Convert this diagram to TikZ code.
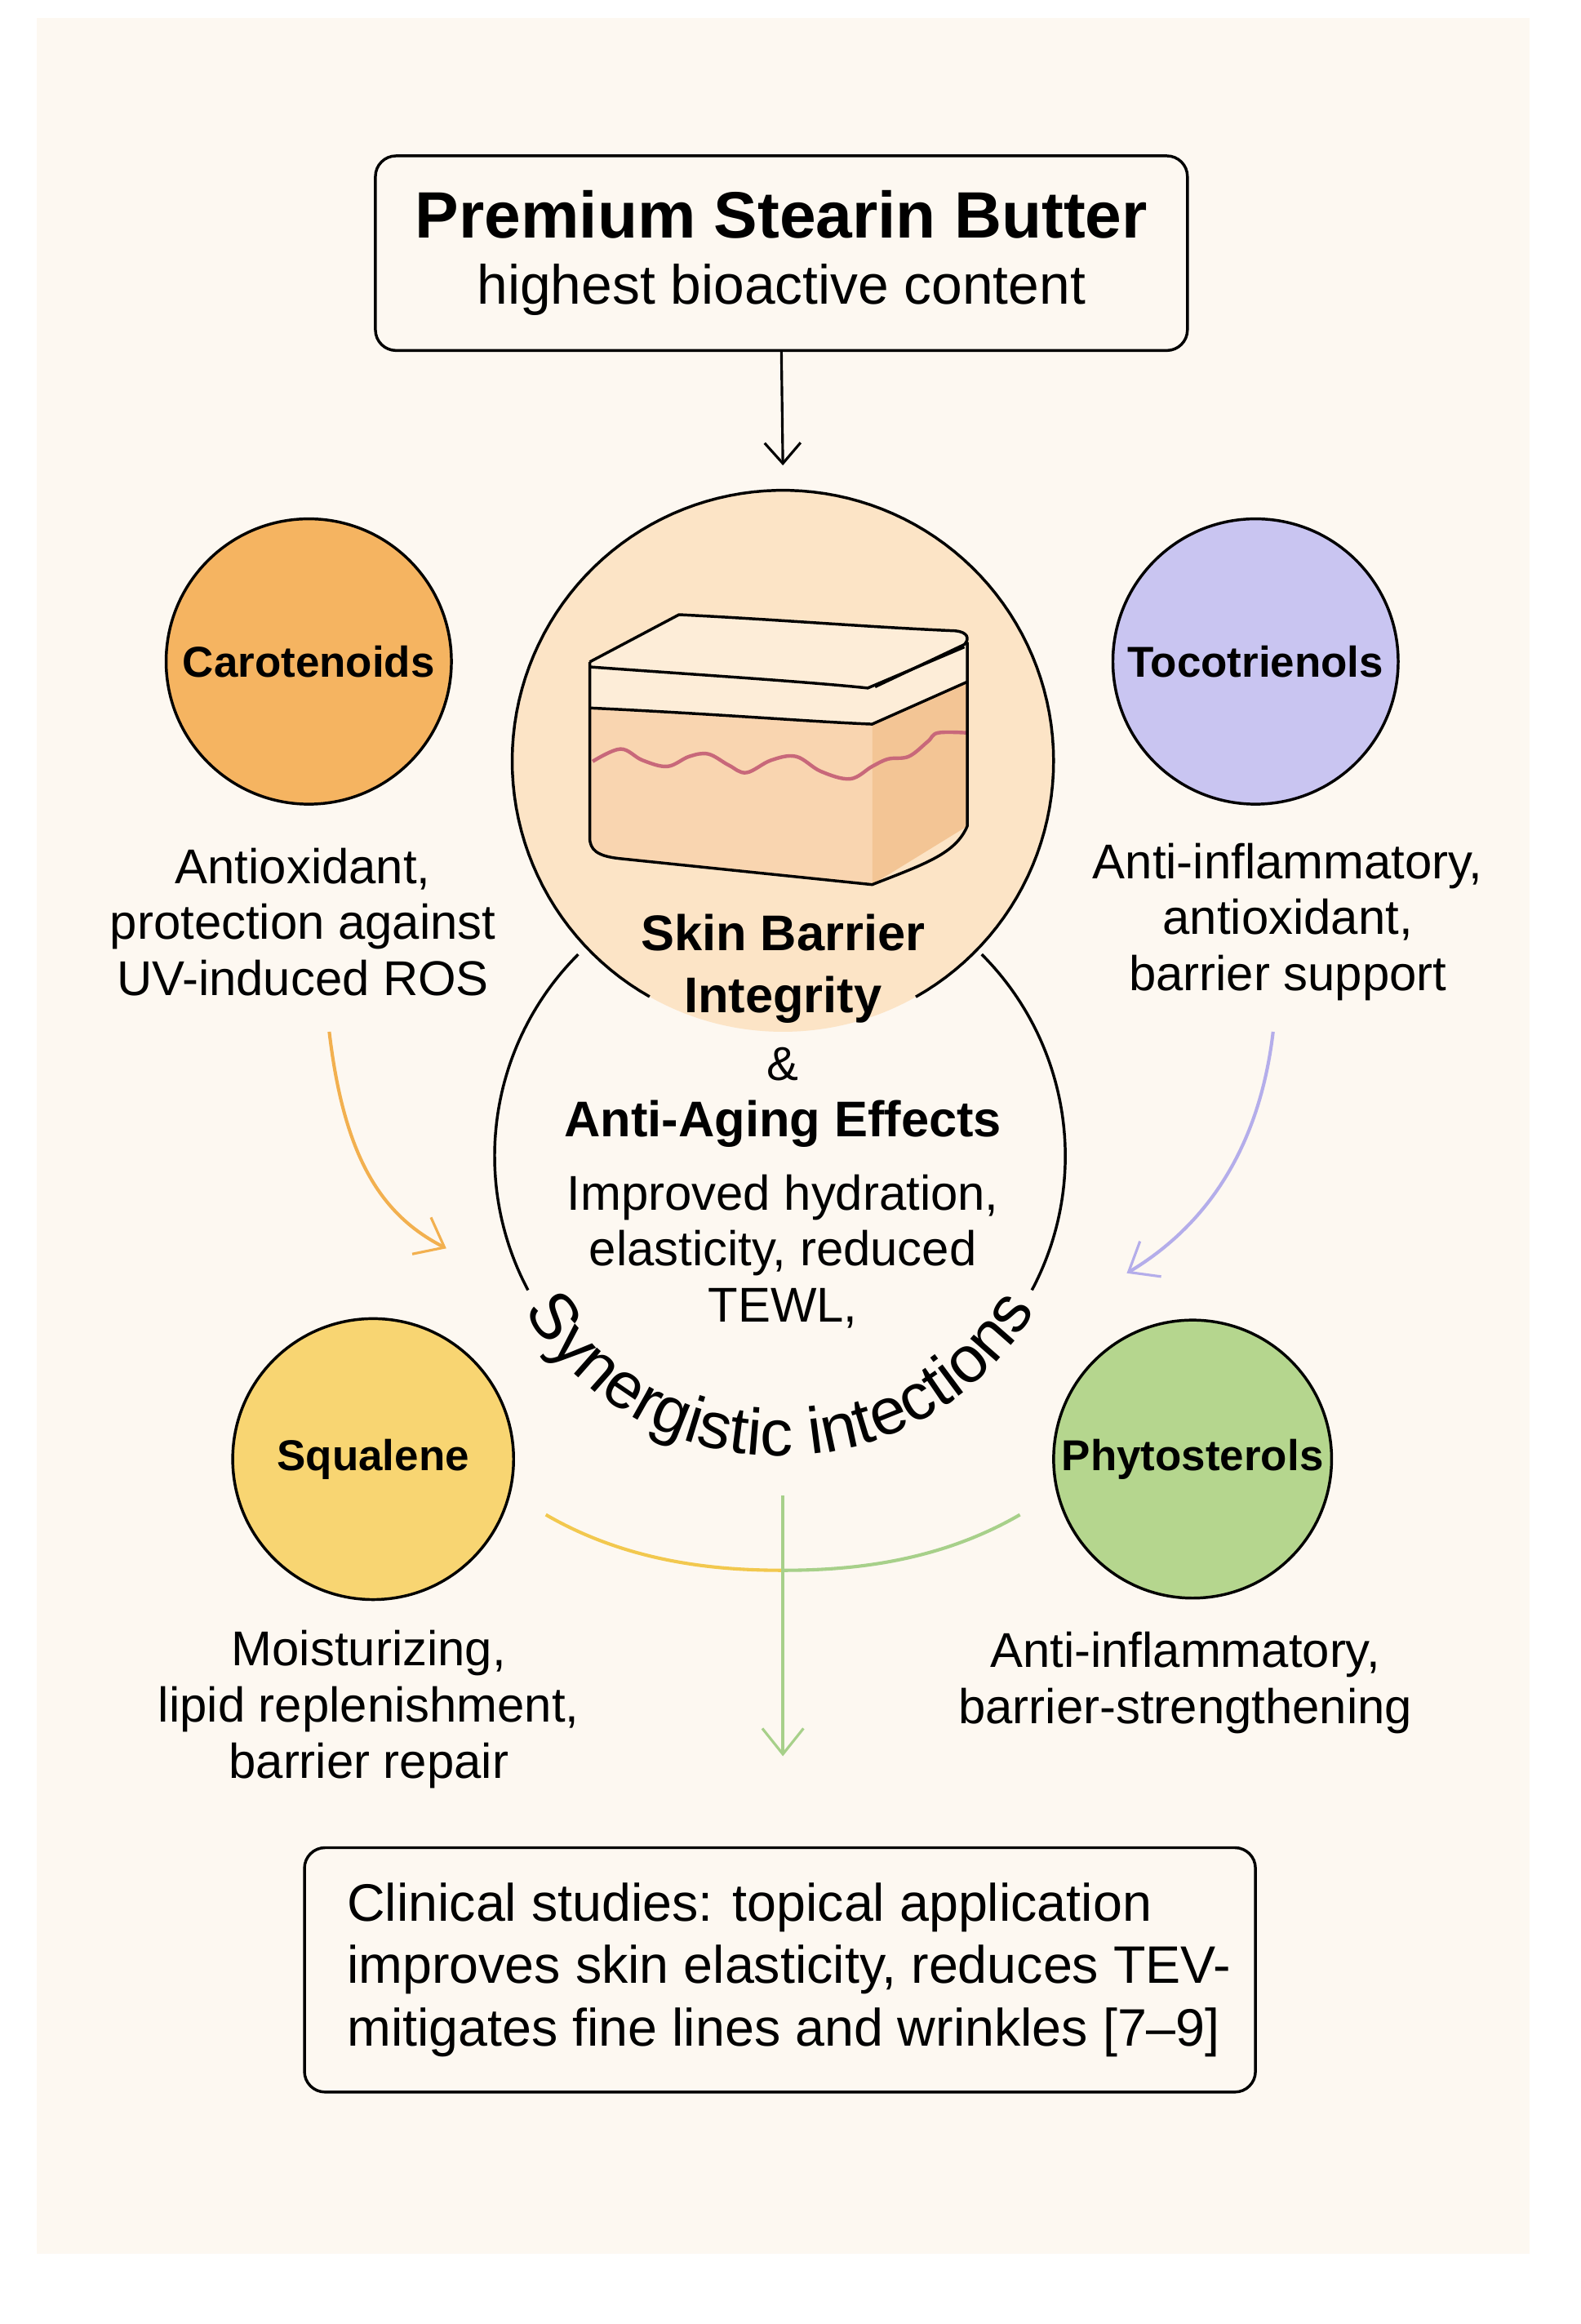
\documentclass[tikz,border=0pt]{standalone}
\usepackage{fontspec}
\setmainfont{Liberation Sans}
\usetikzlibrary{arrows.meta,decorations.text}
\definecolor{panel}{HTML}{FDF8F1}
\definecolor{peach}{HTML}{FCE4C6}
\definecolor{caro}{HTML}{F5B461}
\definecolor{toco}{HTML}{C9C5F1}
\definecolor{squa}{HTML}{F8D572}
\definecolor{phyt}{HTML}{B5D68E}
\definecolor{skintop}{HTML}{FDEDD8}
\definecolor{skinfront}{HTML}{F9D5B0}
\definecolor{skinside}{HTML}{F3C595}
\definecolor{wave}{HTML}{C8687A}
\definecolor{orarrow}{HTML}{F2B04F}
\definecolor{lavarrow}{HTML}{B4ADEA}
\definecolor{yelarc}{HTML}{F2C84E}
\definecolor{grnarc}{HTML}{A7D08A}
\tikzset{
  ln/.style={line width=1.1pt, draw=black},
  comp/.style={circle, ln, minimum size=3.9cm, inner sep=0pt, font=\fontsize{16.8}{20}\selectfont\bfseries},
  desc/.style={align=center, font=\fontsize{19}{21.8}\selectfont},
  barb/.style={-{Straight Barb[length=10pt,width=16pt,line width=1pt]}},
}
\begin{document}
\begin{tikzpicture}[x=0.02cm,y=-0.02cm]
\useasboundingbox (0,0) rectangle (1080,1588);
\fill[white] (0,0) rectangle (1080,1588);
\fill[panel] (25,12) rectangle (1045,1540);

% title
\node[ln, rounded corners=8pt, minimum width=11.1cm, minimum height=2.66cm, align=center] (title) at (534,173)
 {\fontsize{25.5}{30}\selectfont\bfseries Premium Stearin Butter\\[9pt]\fontsize{21.5}{24}\selectfont highest bioactive content};

% big skin circle
\fill[peach] (535,520) circle[radius=185];
\coordinate (skin) at (535,520);
\draw[ln] plot[domain=119.5:420.6, samples=120] ({535+185*cos(\x)},{520+185*sin(\x)});
\draw[line width=1pt, -{Straight Barb[length=8pt,width=14pt,line width=1pt]}] (title.south) -- (535,318);

% lower circle arcs
\draw[ln] plot[domain=225:152, samples=60] ({533+195*cos(\x)},{790+195*sin(\x)});
\draw[ln] plot[domain=315:388, samples=60] ({533+195*cos(\x)},{790+195*sin(\x)});

% skin block
\begin{scope}[shift={(403,420)}, yscale=0.85, shift={(-410,-436)}]
\fill[skinfront] (410,511) .. controls (500,516) and (560,522) .. (603,524) -- (603,653) -- (430,632) .. controls (415,630) and (410,625) .. (410,615) -- cycle;
\fill[skinside] (603,524) -- (668,490) -- (668,606) -- (603,653) -- cycle;
\fill[skintop] (410,474) -- (471,436) .. controls (540,440) and (600,446) .. (660,449) .. controls (668,450) and (670,455) .. (668,460) -- (668,490) -- (603,524) .. controls (560,522) and (500,516) .. (410,511) -- cycle;
\draw[wave, line width=1.4pt] plot[smooth, tension=0.6] coordinates {(412,554) (431,544) (446,553) (463,558) (478,550) (491,548) (505,557) (517,563) (534,553) (551,550) (568,562) (588,568) (603,558) (614,552) (628,550) (641,538) (648,531) (668,531)};
\draw[ln, line join=round] (410,474) -- (471,436) .. controls (540,440) and (600,446) .. (660,449) .. controls (668,450) and (670,455) .. (666,460) -- (605,494);
\draw[ln] (410,478) .. controls (480,484) and (560,490) .. (600,495) -- (666,462);
\draw[ln] (410,511) .. controls (500,516) and (560,522) .. (603,524) -- (668,490);
\draw[ln, line join=round] (410,474) -- (410,615) .. controls (410,625) and (415,630) .. (430,632) -- (603,653) .. controls (640,636) and (660,628) .. (668,606) -- (668,458);
\end{scope}

% center texts
\node[font=\fontsize{19.5}{23}\selectfont\bfseries, align=center] (sbi) at (535,662) {Skin Barrier\\[1pt]Integrity};
\node[font=\fontsize{18.5}{22}\selectfont] (amp) at (535,727) {\&};
\node[font=\fontsize{19.5}{23}\selectfont\bfseries] (aae) at (535,768) {Anti-Aging Effects};
\node[desc] (imp) at (535,855) {Improved hydration,\\elasticity, reduced\\TEWL,};

% synergistic text
\path[decorate, decoration={text along path, text align=center,
  text={|\fontsize{25.5}{26}\selectfont|Synergistic intections}}]
  plot[domain=162:18, samples=60] ({533+203*cos(\x)},{792+203*sin(\x)});

% component circles
\node[comp, fill=caro] (caro) at (211,452) {Carotenoids};
\node[comp, fill=toco] (toco) at (858,452) {Tocotrienols};
\node[comp, fill=squa, minimum size=3.84cm] (squa) at (255,997) {Squalene};
\node[comp, fill=phyt, minimum size=3.8cm] (phyt) at (815,997) {Phytosterols};

\node[desc] (caro-t) at (207,630) {Antioxidant,\\protection against\\UV-induced ROS};
\node[desc] (toco-t) at (880,630) {Anti-inflammatory,\\antioxidant,\\barrier support};
\node[desc] (squa-t) at (252,1168) {Moisturizing,\\lipid replenishment,\\barrier repair};
\node[desc] (phyt-t) at (810,1150) {Anti-inflammatory,\\barrier-strengthening};

% colored connectors
\coordinate (o1) at (225,705); \coordinate (o2) at (305,853);
\draw[orarrow, line width=1.3pt, barb] (o1) .. controls (235,790) and (260,830) .. (o2);
\coordinate (l1) at (870,705); \coordinate (l2) at (770,870);
\draw[lavarrow, line width=1.3pt, barb] (l1) .. controls (860,790) and (820,840) .. (l2);
\coordinate (ya) at (373,1035); \coordinate (mid) at (535,1073); \coordinate (ga) at (697,1035);
\draw[yelarc, line width=1.3pt] (ya) .. controls (430,1068) and (490,1073) .. (mid);
\draw[grnarc, line width=1.3pt] (mid) .. controls (580,1073) and (640,1068) .. (ga);
\coordinate (v1) at (535,1022); \coordinate (v2) at (535,1200);
\draw[grnarc, line width=1.3pt, barb] (v1) -- (v2);

% clinical box
\node[ln, rounded corners=8pt, minimum width=13cm, minimum height=3.34cm] (clin) at (533,1346) {};
\node[anchor=west, align=left, font=\fontsize{20.5}{24.4}\selectfont] (clin-t) at (231,1346) {Clinical studies: topical application\\improves skin elasticity, reduces TEV-\\mitigates fine lines and wrinkles [7–9]};
\end{tikzpicture}
\end{document}
